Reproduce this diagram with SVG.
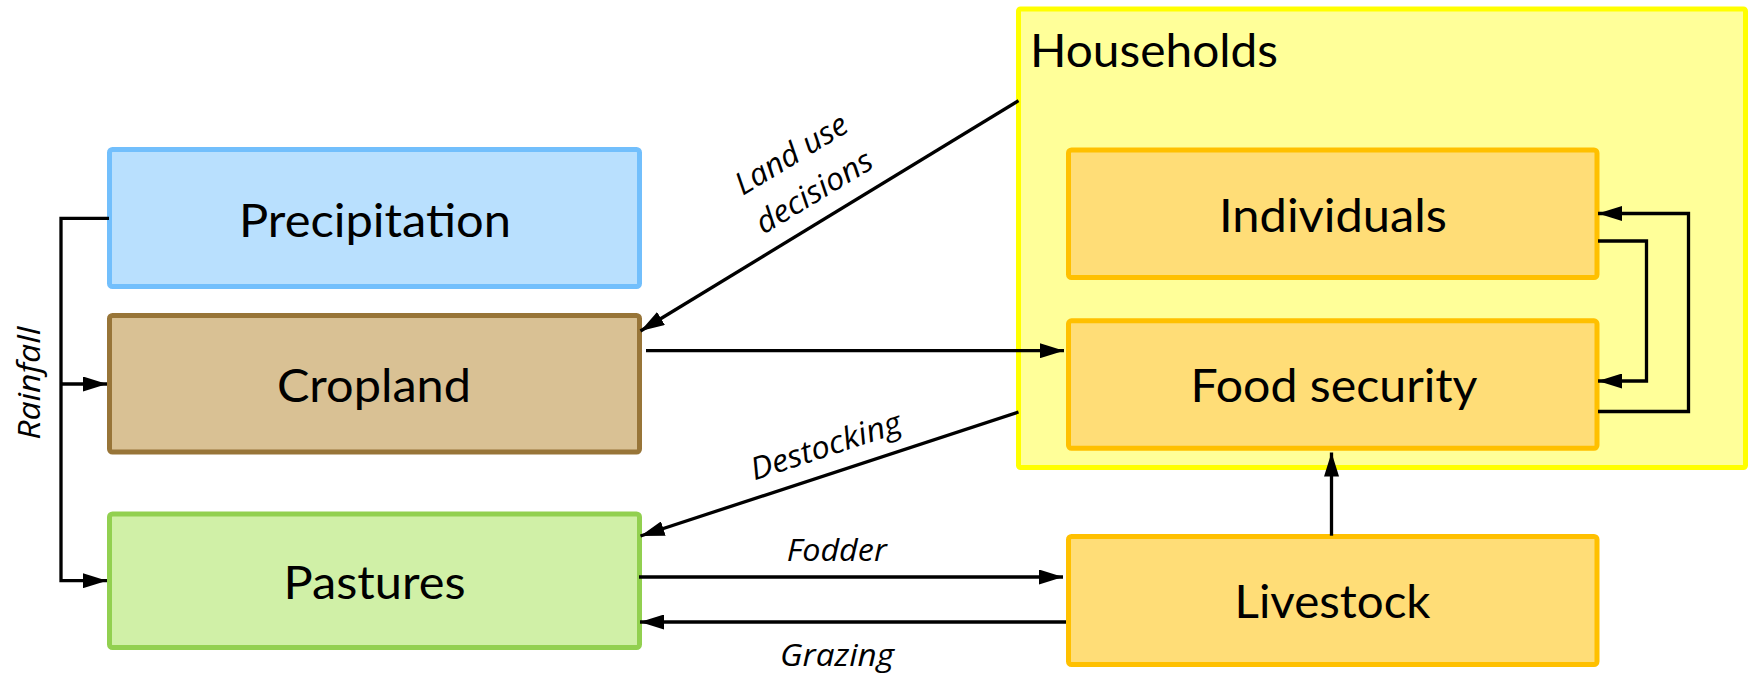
<svg xmlns="http://www.w3.org/2000/svg" width="1750" height="673" viewBox="0 0 1750 673">
  <style>
    .box { stroke-width: 5; }
    .label { font-family: Lato, "Open Sans", "Liberation Sans", sans-serif; font-size: 47px; fill: #000; text-anchor: middle; }
    .tag { font-family: "Open Sans", "Noto Sans", "Liberation Sans", sans-serif; font-style: italic; font-size: 31px; fill: #000; text-anchor: middle; }
    .wire { fill: none; stroke: #000; stroke-width: 3.3; stroke-linejoin: miter; }
  </style>
  <defs>
    <marker id="head" markerUnits="userSpaceOnUse" markerWidth="24" markerHeight="15" refX="24" refY="7.5" orient="auto">
      <path d="M0,0 L24,7.5 L0,15 Z" fill="#000"/>
    </marker>
  </defs>

  <rect width="1750" height="673" fill="#fff"/>

  <!-- container: households -->
  <g id="households">
    <rect class="box" x="1018.5" y="9" width="727" height="458.5" rx="2" fill="#FFFF99" stroke="#FFFF00"/>
    <text class="label" x="1030" y="66.7" style="text-anchor:start" textLength="248" lengthAdjust="spacingAndGlyphs">Households</text>
  </g>

  <g id="precipitation">
    <rect class="box" x="109.5" y="149.5" width="530" height="137" rx="3" fill="#B9E0FE" stroke="#72BFFC"/>
    <text class="label" x="375" y="236.7" textLength="272" lengthAdjust="spacingAndGlyphs">Precipitation</text>
  </g>

  <g id="cropland">
    <rect class="box" x="109.5" y="315.5" width="530" height="136.5" rx="3" fill="#D9C194" stroke="#987538"/>
    <text class="label" x="374" y="401.7" textLength="194" lengthAdjust="spacingAndGlyphs">Cropland</text>
  </g>

  <g id="pastures">
    <rect class="box" x="109.5" y="514" width="530" height="133.5" rx="3" fill="#D0F0A7" stroke="#92D050"/>
    <text class="label" x="374.5" y="599" textLength="182" lengthAdjust="spacingAndGlyphs">Pastures</text>
  </g>

  <g id="individuals">
    <rect class="box" x="1068.5" y="150" width="528.5" height="127.5" rx="3" fill="#FFDD77" stroke="#FFC000"/>
    <text class="label" x="1333" y="231.7" textLength="228" lengthAdjust="spacingAndGlyphs">Individuals</text>
  </g>

  <g id="food-security">
    <rect class="box" x="1068.5" y="320.8" width="528.5" height="127.5" rx="3" fill="#FFDD77" stroke="#FFC000"/>
    <text class="label" x="1334" y="401.7" textLength="287" lengthAdjust="spacingAndGlyphs">Food security</text>
  </g>

  <g id="livestock">
    <rect class="box" x="1068.5" y="536.5" width="528.5" height="128" rx="3" fill="#FFDD77" stroke="#FFC000"/>
    <text class="label" x="1332.5" y="618.3" textLength="196" lengthAdjust="spacingAndGlyphs">Livestock</text>
  </g>

  <!-- connectors -->
  <g id="connectors">
    <path class="wire" d="M109,218.3 H61 V580.7 H107" marker-end="url(#head)"/>
    <path class="wire" d="M61,384 H107" marker-end="url(#head)"/>
    <path class="wire" d="M1018.5,100.7 L640.5,331" marker-end="url(#head)"/>
    <path class="wire" d="M646,350.7 H1064" marker-end="url(#head)"/>
    <path class="wire" d="M1018.5,412 L640.5,536" marker-end="url(#head)"/>
    <path class="wire" d="M639,577 H1063" marker-end="url(#head)"/>
    <path class="wire" d="M1066,622 H640" marker-end="url(#head)"/>
    <path class="wire" d="M1331.5,535.7 V452.5" marker-end="url(#head)"/>
    <path class="wire" d="M1598,411.5 H1688.5 V213.5 H1598" marker-end="url(#head)"/>
    <path class="wire" d="M1598,241 H1646.5 V381 H1598" marker-end="url(#head)"/>

    <!-- connector labels -->
    <text class="tag" transform="translate(39.5,383.3) rotate(-90)" textLength="113" lengthAdjust="spacingAndGlyphs">Rainfall</text>
    <g transform="translate(808,182) rotate(-31.3)">
      <text class="tag" x="0" y="-22" textLength="126" lengthAdjust="spacingAndGlyphs">Land use</text>
      <text class="tag" x="0" y="22" textLength="131" lengthAdjust="spacingAndGlyphs">decisions</text>
    </g>
    <text class="tag" transform="translate(829,456) rotate(-18.2)" textLength="157" lengthAdjust="spacingAndGlyphs">Destocking</text>
    <text class="tag" x="836.7" y="561" textLength="100" lengthAdjust="spacingAndGlyphs">Fodder</text>
    <text class="tag" x="837" y="666" textLength="114" lengthAdjust="spacingAndGlyphs">Grazing</text>
  </g>
</svg>
